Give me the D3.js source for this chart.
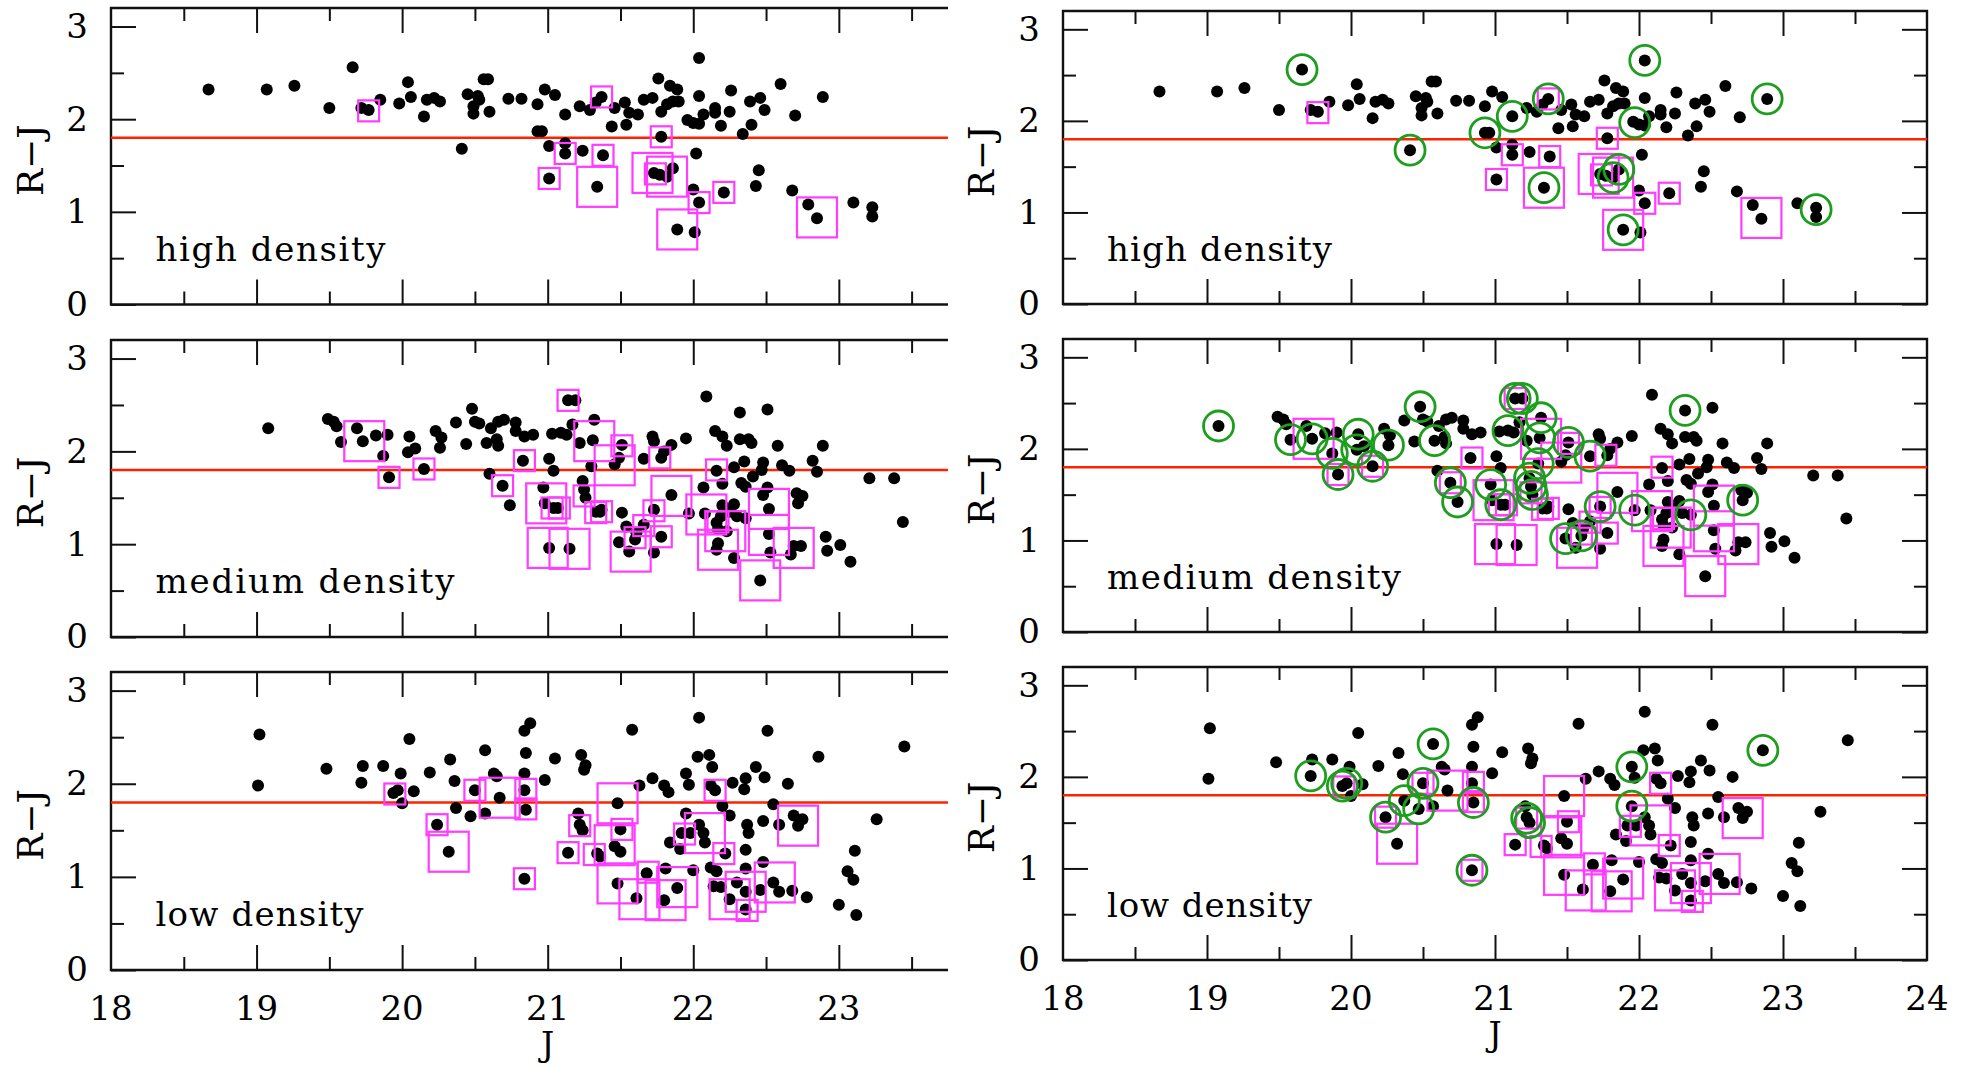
<!DOCTYPE html>
<html><head><meta charset="utf-8">
<script src="https://cdn.jsdelivr.net/npm/d3@7"></script>
<style>
body{margin:0;background:#fff}
svg{display:block}
text{font-family:"DejaVu Serif",serif;fill:#000}
</style>
</head><body>
<svg id="c" width="1968" height="1068"></svg>
<script>
// ---------------- DATA ----------------
const densityLabels = ["high density", "medium density", "low density"];
const xTicksLeft = [18, 19, 20, 21, 22, 23];
const xTicksRight = [18, 19, 20, 21, 22, 23, 24];
const yTicks = [0, 1, 2, 3];
const colourCut = 1.8;
const xAxisTitle = "J";
const yAxisTitle = "R\u2212J";

// [J, R-J]
const highPoints = [[18.67,2.32],[19.07,2.32],[19.26,2.36],[19.66,2.56],[19.50,2.12],[19.72,2.12],[19.77,2.10],[19.85,2.21],[19.98,2.17],[20.04,2.40],[20.06,2.24],[20.15,2.03],[20.17,2.21],[20.22,2.23],[20.26,2.19],[20.41,1.68],[20.45,2.27],[20.52,2.25],[20.53,2.21],[20.49,2.14],[20.49,2.06],[20.56,2.43],[20.59,2.43],[20.60,2.08],[20.73,2.22],[20.82,2.22],
[20.93,2.16],[20.98,2.32],[21.05,2.26],[21.12,2.05],[20.93,1.87],[20.96,1.87],[21.01,1.71],[21.12,1.74],[21.12,1.63],[21.24,1.66],[21.01,1.36],[21.34,1.27],[21.38,1.61],[21.22,2.14],[21.29,2.10],[21.37,2.24],[21.33,2.18],[21.46,2.12],[21.53,2.18],[21.56,2.07],[21.62,2.05],[21.54,1.94],[21.44,1.92],[21.66,2.21],[21.72,2.23],[21.76,2.44],[21.84,2.36],[21.89,2.32],[21.82,2.16],[21.86,2.19],[21.90,2.19],[21.78,2.08],[21.78,1.81],[21.73,1.42],[21.77,1.40],[21.82,1.38],[21.86,1.47],[22.04,2.66],[22.04,2.25],[21.96,1.99],[22.00,1.96],[22.04,1.95],[22.07,2.05],[22.15,2.12],[22.15,2.07],[22.19,1.93],[22.02,1.63],[22.00,1.24],[22.04,1.10],[21.89,0.81],[22.01,0.78],[22.21,1.21],[22.26,2.31],[22.25,2.08],[22.34,1.84],[22.40,1.94],[22.39,2.19],[22.46,2.23],[22.49,2.10],[22.45,1.45],[22.43,1.28],[22.60,2.38],[22.70,2.04],[22.68,1.23],[22.79,1.08],[22.85,0.93],[22.89,2.24],[23.10,1.10],[23.23,1.05],[23.23,0.95]];

// [J, R-J, size class (1 small, 2 large)]
const highSquares = [[19.77,2.09,1],[21.12,1.63,1],[21.01,1.36,1],[21.34,1.27,2],[21.38,1.61,1],[21.37,2.24,1],[21.78,1.81,1],[21.72,1.42,2],[21.74,1.41,1],[21.82,1.38,2],[22.04,1.10,1],[21.89,0.81,2],[22.21,1.21,1],[22.85,0.94,2]];

const highCircles = [[19.66,2.56],[20.41,1.68],[20.93,1.87],[21.12,2.05],[21.37,2.24],[21.34,1.27],[21.97,1.98],[21.86,1.47],[21.82,1.38],[21.89,0.81],[22.04,2.66],[22.89,2.24],[23.23,1.03]];

const mediumPoints = [[19.08,2.25],[19.49,2.35],[19.53,2.32],[19.55,2.27],[19.58,2.10],[19.69,2.25],[19.73,2.11],[19.82,2.17],[19.90,2.18],[19.87,1.95],[19.91,1.72],[20.05,2.16],[20.04,1.99],[20.09,2.03],[20.15,1.81],[20.23,2.22],[20.27,2.15],[20.26,2.04],[20.37,2.31],[20.44,2.08],[20.48,2.46],[20.50,2.32],[20.53,2.30],[20.58,2.09],[20.61,2.25],[20.66,2.32],[20.70,2.34],[20.65,2.13],[20.66,2.06],[20.60,1.76],[20.69,1.63],[20.74,1.42],[20.78,2.31],[20.78,2.22],[20.84,2.16],[20.83,1.90],
[20.90,2.18],[21.01,1.92],[21.04,1.79],[20.97,1.61],[20.98,1.44],[21.04,1.39],[21.07,1.39],[21.01,0.96],[21.15,0.95],[21.03,2.19],[21.09,2.20],[21.13,2.18],[21.17,2.29],[21.14,2.55],[21.19,2.55],[21.22,2.09],[21.32,2.34],[21.31,2.12],[21.30,1.84],[21.24,1.68],[21.25,1.59],[21.26,1.50],[21.33,1.35],[21.36,1.35],[21.37,1.37],[21.46,1.86],[21.49,1.93],[21.51,2.07],[21.66,1.92],[21.72,2.16],[21.73,2.11],[21.78,1.93],[21.80,2.00],[21.85,2.07],[21.95,2.14],[21.51,1.34],[21.54,1.19],[21.61,1.12],[21.60,1.05],[21.66,1.21],[21.73,1.37],[21.78,1.08],[21.49,1.02],[21.56,0.92],[21.73,0.91],[21.85,1.53],[21.97,1.33],[22.07,1.61],[22.09,2.59],[22.15,2.22],[22.20,2.16],[22.23,2.06],[22.16,1.79],[22.28,1.83],[22.20,1.65],[22.32,2.42],[22.32,2.13],[22.38,2.13],[22.40,2.09],[22.35,1.89],[22.41,1.73],[22.33,1.66],[22.36,1.62],[22.48,1.88],[22.47,1.80],[22.51,2.45],[22.58,2.06],[22.61,1.85],[22.66,1.79],[22.82,1.90],[22.85,1.78],[22.89,2.06],[22.51,1.61],[22.48,1.53],[22.52,1.38],[22.20,1.42],[22.28,1.43],[22.25,1.35],[22.08,1.33],[22.19,1.30],[22.16,1.23],[22.17,1.16],[22.23,1.14],[22.30,1.30],[22.36,1.28],[22.17,1.01],[22.16,0.94],[22.28,0.85],[22.46,0.61],[22.52,1.11],[22.53,0.91],[22.67,0.89],[22.69,0.98],[22.74,0.98],[22.71,1.55],[22.75,1.52],[22.72,1.44],[22.91,1.08],[22.92,0.93],[23.01,0.99],[23.08,0.81],[23.21,1.71],[23.38,1.71],[23.44,1.24]];

const mediumSquares = [[19.74,2.11,2],[19.91,1.72,1],[20.15,1.81,1],[20.69,1.63,1],[20.84,1.90,1],[20.99,1.44,2],[21.03,1.39,1],[21.08,1.39,1],[21.00,0.96,2],[21.15,0.95,2],[21.14,2.55,1],[21.32,2.11,2],[21.25,1.52,1],[21.33,1.34,1],[21.37,1.35,1],[21.51,2.06,1],[21.46,1.85,2],[21.77,1.93,1],[21.73,1.36,1],[21.78,1.08,1],[21.57,0.92,2],[21.60,1.07,1],[21.66,1.20,1],[21.85,1.52,2],[22.16,1.80,1],[22.52,1.38,2],[22.09,1.32,2],[22.22,1.14,2],[22.17,0.94,2],[22.46,0.61,2],[22.52,1.10,2],[22.69,0.96,2],[22.17,1.24,1]];

const mediumCircles = [[19.08,2.25],[19.58,2.10],[19.73,2.11],[19.87,1.95],[20.05,2.16],[20.04,1.99],[19.91,1.72],[20.15,1.81],[20.26,2.04],[20.48,2.46],[20.58,2.09],[20.69,1.63],[20.74,1.42],[21.14,2.55],[21.19,2.55],[21.32,2.34],[21.09,2.20],[21.31,2.12],[21.51,2.07],[21.30,1.84],[21.66,1.92],[20.97,1.61],[21.04,1.39],[21.24,1.68],[21.25,1.59],[21.26,1.50],[21.49,1.02],[21.60,1.05],[21.73,1.37],[21.97,1.33],[22.32,2.42],[22.36,1.28],[22.72,1.44]];

const lowPoints = [[19.02,2.53],[19.01,1.98],[19.48,2.16],[19.73,2.19],[19.72,2.01],[19.87,2.19],[19.99,2.11],[19.94,1.90],[19.97,1.93],[20.00,1.79],[20.05,2.48],[20.08,1.92],[20.19,2.12],[20.24,1.56],[20.32,1.27],[20.33,2.26],[20.36,2.03],[20.37,1.74],[20.47,1.65],[20.50,1.93],[20.57,2.36],[20.63,2.11],[20.65,2.08],[20.57,1.68],[20.67,1.85],[20.84,2.57],[20.88,2.65],[20.85,2.33],[20.84,2.11],[20.84,1.93],[20.85,1.72],[20.84,0.98],
[20.98,2.04],[21.05,2.27],[21.23,2.31],[21.26,2.20],[21.25,2.15],[21.21,1.68],[21.22,1.56],[21.24,1.50],[21.14,1.26],[21.58,2.58],[21.48,1.79],[21.63,1.98],[21.72,2.06],[21.80,1.98],[21.83,1.91],[21.50,1.51],[21.46,1.33],[21.50,1.27],[21.34,1.25],[21.36,1.22],[21.48,0.93],[21.61,0.77],[21.68,1.04],[21.80,0.75],[21.89,0.88],[21.81,1.09],[22.00,1.07],[21.95,1.68],[21.92,1.47],[21.98,1.47],[22.04,1.56],[22.07,1.47],[22.08,1.37],[21.84,1.37],[21.91,1.30],[22.04,2.71],[21.95,2.11],[21.97,1.99],[22.03,2.29],[22.11,2.31],[22.13,2.18],[22.12,1.98],[22.15,1.93],[22.20,1.76],[22.25,1.66],[22.27,2.01],[22.36,2.06],[22.35,1.94],[22.43,2.18],[22.49,2.07],[22.51,2.57],[22.65,2.00],[22.55,1.78],[22.48,1.60],[22.37,1.56],[22.38,1.47],[22.59,1.56],[22.36,1.29],[22.22,1.25],[22.12,1.10],[22.16,1.06],[22.14,0.90],[22.19,0.89],[22.36,1.09],[22.48,1.16],[22.30,0.94],[22.36,0.84],[22.46,0.86],[22.55,0.94],[22.59,0.84],[22.68,0.85],[22.25,0.76],[22.36,0.65],[22.78,0.78],[22.69,1.66],[22.75,1.62],[22.72,1.55],[22.86,2.29],[23.26,1.62],[23.11,1.28],[23.06,1.06],[23.10,0.97],[23.00,0.70],[23.12,0.59],[23.45,2.40]];

const lowSquares = [[19.95,1.89,1],[20.24,1.56,1],[20.32,1.27,2],[20.50,1.93,1],[20.67,1.85,2],[20.85,1.94,1],[20.85,1.73,1],[20.84,0.98,1],[21.22,1.55,1],[21.14,1.26,1],[21.48,1.79,2],[21.51,1.51,1],[21.46,1.34,2],[21.32,1.24,1],[21.48,0.93,2],[21.69,1.05,1],[21.63,0.76,2],[21.81,0.75,2],[21.89,0.89,2],[21.94,1.46,1],[22.08,1.47,2],[22.21,1.25,1],[22.15,1.93,1],[22.72,1.55,2],[22.56,0.94,2],[22.25,0.76,2],[22.36,0.84,2],[22.37,0.64,1]];

const lowCircles = [[19.72,2.01],[19.94,1.90],[19.97,1.93],[20.57,2.36],[20.24,1.56],[20.37,1.74],[20.47,1.65],[20.50,1.93],[20.84,0.98],[20.85,1.72],[21.22,1.55],[21.24,1.50],[21.95,2.11],[21.95,1.68],[22.86,2.29]];

// ---------------- LAYOUT ----------------
const svg = d3.select("#c");
const sizeScale = d3.scaleOrdinal().domain([1, 2]).range([21, 40]);
const ink = "#111";
const magenta = "#ff3cff";
const green = "#1e9e1e";
const red = "#ff2200";

const datasets = [
  {points: highPoints, squares: highSquares, circles: highCircles, label: densityLabels[0]},
  {points: mediumPoints, squares: mediumSquares, circles: mediumCircles, label: densityLabels[1]},
  {points: lowPoints, squares: lowSquares, circles: lowCircles, label: densityLabels[2]}
];

const leftCol = {x0: 111, x1: 948, xMax: 23.75, ticks: xTicksLeft, rows: [[8,304.5],[340,637],[672,970]],
  labelW: [230, 299, 208], textDx: 44.5, textDy: 44, yTitleX: 30, rightSide: false, circles: false};
const rightCol = {x0: 1063, x1: 1927, xMax: 24, ticks: xTicksRight, rows: [[11,304],[339,632],[667,960]],
  labelW: [225, 294, 205], textDx: 44, textDy: 43, yTitleX: 981, rightSide: true, circles: true};

function range(a, b, s) { const r = []; for (let v = a; v <= b + 1e-9; v += s) r.push(+v.toFixed(2)); return r; }

function drawPanel(col, row, ds) {
  const [y0, y1] = col.rows[row];
  const x = d3.scaleLinear().domain([18, col.xMax]).range([col.x0, col.x1]);
  const y = d3.scaleLinear().domain([0, 3.2]).range([y1, y0]);
  const g = svg.append("g");
  const isBottom = row === 2;

  const xMajor = col.ticks;
  const xMinor = range(18.5, col.xMax, 1);
  const yMajor = yTicks;
  const yMinor = [0.5, 1.5, 2.5];

  const styleAxis = sel => {
    sel.select(".domain").remove();
    sel.selectAll("line").attr("stroke", ink).attr("stroke-width", 2);
  };

  // left axis
  g.append("g").attr("transform", `translate(${col.x0},0)`)
    .call(d3.axisLeft(y).tickValues(yMajor).tickSize(-25).tickPadding(23).tickFormat(d3.format("d")))
    .call(styleAxis)
    .call(s => s.selectAll("text").attr("font-size", 34).attr("font-family", '"DejaVu Serif", serif').attr("fill", "#000"));
  g.append("g").attr("transform", `translate(${col.x0},0)`)
    .call(d3.axisLeft(y).tickValues(yMinor).tickSize(-13).tickFormat(""))
    .call(styleAxis);

  // right axis (right column only)
  if (col.rightSide) {
    g.append("g").attr("transform", `translate(${col.x1},0)`)
      .call(d3.axisRight(y).tickValues(yMajor).tickSize(-25).tickFormat(""))
      .call(styleAxis);
    g.append("g").attr("transform", `translate(${col.x1},0)`)
      .call(d3.axisRight(y).tickValues(yMinor).tickSize(-13).tickFormat(""))
      .call(styleAxis);
  }

  // top axis
  g.append("g").attr("transform", `translate(0,${y0})`)
    .call(d3.axisTop(x).tickValues(xMajor.filter(v => v > 18 && v < col.xMax)).tickSize(-25).tickFormat(""))
    .call(styleAxis);
  g.append("g").attr("transform", `translate(0,${y0})`)
    .call(d3.axisTop(x).tickValues(xMinor).tickSize(-13).tickFormat(""))
    .call(styleAxis);

  // bottom axis
  g.append("g").attr("transform", `translate(0,${y1})`)
    .call(d3.axisBottom(x).tickValues(xMajor.filter(v => v > 18 && v < col.xMax)).tickSize(-25).tickFormat(""))
    .call(styleAxis);
  g.append("g").attr("transform", `translate(0,${y1})`)
    .call(d3.axisBottom(x).tickValues(xMinor).tickSize(-13).tickFormat(""))
    .call(styleAxis);
  if (isBottom) {
    g.append("g").selectAll("text").data(xMajor).join("text")
      .attr("x", d => x(d)).attr("y", y1 + 50)
      .attr("text-anchor", "middle").attr("font-size", 34)
      .text(d => d);
    g.append("text").attr("x", x((18 + 24) / 2)).attr("y", y1 + 74).attr("dy", "0.35em")
      .attr("text-anchor", "middle").attr("font-size", 33).text(xAxisTitle);
  }

  // frame
  const frame = col.rightSide
    ? `M${col.x0},${y0}H${col.x1}V${y1}H${col.x0}Z`
    : `M${col.x1},${y0}H${col.x0}V${y1}H${col.x1}`;
  g.append("path").attr("d", frame).attr("fill", "none").attr("stroke", ink).attr("stroke-width", 2.4);

  // y title
  const yc = (y0 + y1) / 2 + 4;
  g.append("text").attr("transform", `translate(${col.yTitleX},${yc}) rotate(-90)`)
    .attr("text-anchor", "middle").attr("dy", "0.35em").attr("font-size", 36).text(yAxisTitle);

  // colour cut line
  g.append("line").attr("x1", col.x0).attr("x2", col.x1)
    .attr("y1", y(colourCut)).attr("y2", y(colourCut))
    .attr("stroke", red).attr("stroke-width", 2.5);

  // points
  g.append("g").selectAll("circle").data(ds.points).join("circle")
    .attr("cx", d => x(d[0])).attr("cy", d => y(d[1])).attr("r", 6).attr("fill", "#000");

  // squares
  g.append("g").selectAll("rect").data(ds.squares).join("rect")
    .attr("x", d => x(d[0]) - sizeScale(d[2]) / 2).attr("y", d => y(d[1]) - sizeScale(d[2]) / 2)
    .attr("width", d => sizeScale(d[2])).attr("height", d => sizeScale(d[2]))
    .attr("fill", "none").attr("stroke", magenta).attr("stroke-width", 2.2);

  // green rings (right column)
  if (col.circles) {
    g.append("g").selectAll("circle").data(ds.circles).join("circle")
      .attr("cx", d => x(d[0])).attr("cy", d => y(d[1])).attr("r", 15)
      .attr("fill", "none").attr("stroke", green).attr("stroke-width", 2.8);
  }

  // density label
  g.append("text").attr("x", col.x0 + col.textDx).attr("y", y1 - col.textDy)
    .attr("font-size", 34).attr("textLength", col.labelW[row]).attr("lengthAdjust", "spacing")
    .text(ds.label);
}

datasets.forEach((ds, i) => { drawPanel(leftCol, i, ds); drawPanel(rightCol, i, ds); });
</script>
</body></html>
